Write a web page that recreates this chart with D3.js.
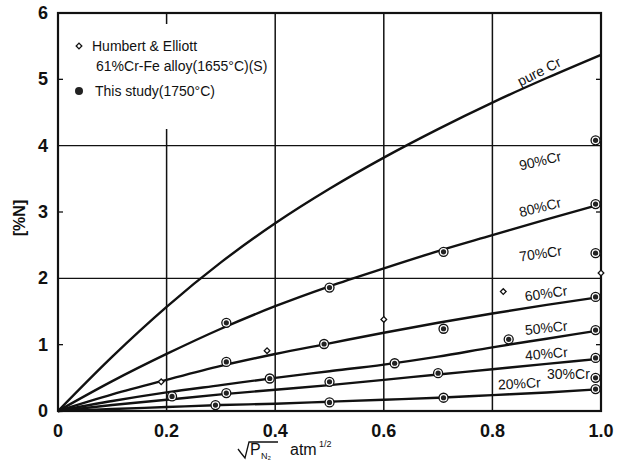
<!DOCTYPE html>
<html>
<head>
<meta charset="utf-8">
<script src="https://cdn.jsdelivr.net/npm/d3@7"></script>
<style>
  body { margin: 0; background: #fff; }
  text { font-family: "Liberation Sans", "DejaVu Sans", sans-serif; fill: #111; }
</style>
</head>
<body>
<script>
const width = 623, height = 461;

// sqrt(P_N2) grid used for every curve
const xs = [0, 0.1, 0.2, 0.3, 0.4, 0.5, 0.6, 0.7, 0.8, 0.9, 1.0];

// [%N]
const pureCr = [0, 0.82, 1.57, 2.24, 2.83, 3.35, 3.82, 4.25, 4.65, 5.02, 5.37];
const cr80 = [0, 0.45, 0.86, 1.24, 1.58, 1.88, 2.15, 2.41, 2.65, 2.89, 3.12];
const cr60 = [0, 0.25, 0.47, 0.68, 0.86, 1.02, 1.18, 1.33, 1.47, 1.60, 1.72];
const cr50 = [0, 0.15, 0.28, 0.39, 0.50, 0.60, 0.70, 0.82, 0.96, 1.09, 1.22];
const cr40 = [0, 0.09, 0.17, 0.25, 0.32, 0.39, 0.47, 0.55, 0.63, 0.71, 0.79];
const cr20 = [0, 0.03, 0.06, 0.09, 0.11, 0.14, 0.17, 0.20, 0.24, 0.28, 0.33];

// this study (1750°C)
const studyX = [0.31, 0.50, 0.71, 0.99, 0.99, 0.99, 0.31, 0.49, 0.71, 0.99, 0.21, 0.39, 0.62, 0.83, 0.99, 0.31, 0.50, 0.70, 0.99, 0.99, 0.29, 0.50, 0.71, 0.99];
const studyY = [1.33, 1.86, 2.40, 3.12, 4.08, 2.38, 0.74, 1.01, 1.24, 1.72, 0.22, 0.49, 0.72, 1.08, 1.22, 0.27, 0.44, 0.57, 0.80, 0.50, 0.09, 0.13, 0.20, 0.33];

// Humbert & Elliott, 61%Cr-Fe
const heX = [0.19, 0.385, 0.60, 0.82, 1.0];
const heY = [0.44, 0.91, 1.38, 1.80, 2.08];

const xTicks = [0, 0.2, 0.4, 0.6, 0.8, 1.0];
const yTicks = [0, 1, 2, 3, 4, 5, 6];

const curveLabels = [
    { text: "pure Cr", x: 0.89, y: 5.05, rot: -27 },
    { text: "90%Cr", x: 0.89, y: 3.70, rot: -13 },
    { text: "80%Cr", x: 0.89, y: 3.00, rot: -14 },
    { text: "70%Cr", x: 0.89, y: 2.30, rot: -8 },
    { text: "60%Cr", x: 0.90, y: 1.70, rot: -8 },
    { text: "50%Cr", x: 0.90, y: 1.18, rot: -6 },
    { text: "40%Cr", x: 0.90, y: 0.79, rot: -5 },
    { text: "30%Cr", x: 0.94, y: 0.48, rot: 0 },
    { text: "20%Cr", x: 0.85, y: 0.34, rot: -3 }
];

const x = d3.scaleLinear().domain([0, 1]).range([58, 601]);
const y = d3.scaleLinear().domain([0, 6]).range([411, 13]);

const svg = d3.select("body").append("svg")
    .attr("width", width)
    .attr("height", height);

// grid
svg.selectAll(".vgrid")
    .data([0.2, 0.4, 0.6, 0.8])
    .enter().append("line")
    .attr("x1", d => x(d)).attr("x2", d => x(d))
    .attr("y1", y(0)).attr("y2", y(6))
    .attr("stroke", "#111").attr("stroke-width", 1.5);

svg.selectAll(".hgrid")
    .data([2, 4])
    .enter().append("line")
    .attr("x1", x(0)).attr("x2", x(1))
    .attr("y1", d => y(d)).attr("y2", d => y(d))
    .attr("stroke", "#111").attr("stroke-width", 1.3);

// legend box gap in the 0.2 grid line
svg.append("rect")
    .attr("x", 62).attr("y", 24)
    .attr("width", 200).attr("height", 105)
    .attr("fill", "#fff");

// small inner ticks
[1, 3, 5].forEach(v => {
    svg.append("line").attr("x1", x(0)).attr("x2", x(0) + 5)
        .attr("y1", y(v)).attr("y2", y(v)).attr("stroke", "#111").attr("stroke-width", 1.3);
    svg.append("line").attr("x1", x(1)).attr("x2", x(1) - 5)
        .attr("y1", y(v)).attr("y2", y(v)).attr("stroke", "#111").attr("stroke-width", 1.3);
});

// frame
svg.append("rect")
    .attr("x", x(0)).attr("y", y(6))
    .attr("width", x(1) - x(0)).attr("height", y(0) - y(6))
    .attr("fill", "none").attr("stroke", "#111").attr("stroke-width", 2.2);

// curves
const line = d3.line()
    .x((d, i) => x(xs[i]))
    .y(d => y(d))
    .curve(d3.curveMonotoneX);

svg.selectAll(".curve")
    .data([pureCr, cr80, cr60, cr50, cr40, cr20])
    .enter().append("path")
    .attr("d", line)
    .attr("fill", "none")
    .attr("stroke", "#111")
    .attr("stroke-width", 2.4);

// study points
const study = studyX.map((v, i) => [v, studyY[i]]);
const pts = svg.selectAll(".study").data(study).enter().append("g")
    .attr("transform", d => `translate(${x(d[0])},${y(d[1])})`);
pts.append("circle").attr("r", 4.5).attr("fill", "#fff").attr("stroke", "#111").attr("stroke-width", 1.3);
pts.append("circle").attr("r", 2.6).attr("fill", "#222");

// Humbert & Elliott, small lozenges
const sym = d3.symbol().type(d3.symbolSquare).size(16);
svg.selectAll(".he").data(heX.map((v, i) => [v, heY[i]])).enter().append("path")
    .attr("d", sym)
    .attr("transform", d => `translate(${x(d[0])},${y(d[1])}) rotate(45)`)
    .attr("fill", "#fff").attr("stroke", "#111").attr("stroke-width", 1.3);

// curve labels
svg.selectAll(".clabel").data(curveLabels).enter().append("text")
    .attr("transform", d => `translate(${x(d.x)},${y(d.y)}) rotate(${d.rot})`)
    .attr("text-anchor", "middle")
    .attr("font-size", 14)
    .text(d => d.text);

// legend
svg.append("path").attr("d", sym)
    .attr("transform", "translate(79,46) rotate(45)")
    .attr("fill", "#fff").attr("stroke", "#111").attr("stroke-width", 1.3);
svg.append("text").attr("x", 92).attr("y", 51).attr("font-size", 14).text("Humbert & Elliott");
svg.append("text").attr("x", 96).attr("y", 71).attr("font-size", 14).text("61%Cr-Fe alloy(1655°C)(S)");
svg.append("circle").attr("cx", 79).attr("cy", 91).attr("r", 4).attr("fill", "#222");
svg.append("text").attr("x", 95).attr("y", 96).attr("font-size", 14).text("This study(1750°C)");

// tick labels
svg.selectAll(".xt").data(xTicks).enter().append("text")
    .attr("x", d => x(d)).attr("y", 437)
    .attr("text-anchor", "middle")
    .attr("font-size", 18)
    .attr("font-weight", "bold")
    .text(d => d === 0 ? "0" : d3.format(".1f")(d));

svg.selectAll(".yt").data(yTicks).enter().append("text")
    .attr("x", 48).attr("y", d => y(d) + 6)
    .attr("text-anchor", "end")
    .attr("font-size", 18)
    .attr("font-weight", "bold")
    .text(d => d);

// axis titles
svg.append("text")
    .attr("transform", "translate(25,218) rotate(-90)")
    .attr("text-anchor", "middle")
    .attr("font-size", 16)
    .attr("font-weight", "bold")
    .text("[%N]");

const xt = svg.append("g").attr("transform", "translate(238,455)");
xt.append("path")
    .attr("d", "M0,-6 L3,-2 L7,3 L11,-13 L40,-13")
    .attr("fill", "none").attr("stroke", "#111").attr("stroke-width", 1.3);
xt.append("text").attr("x", 12).attr("y", 0).attr("font-size", 16).text("P");
xt.append("text").attr("x", 23).attr("y", 4).attr("font-size", 9).text("N₂");
xt.append("text").attr("x", 52).attr("y", 0).attr("font-size", 16).text("atm");
xt.append("text").attr("x", 81).attr("y", -8).attr("font-size", 9).text("1/2");
</script>
</body>
</html>
